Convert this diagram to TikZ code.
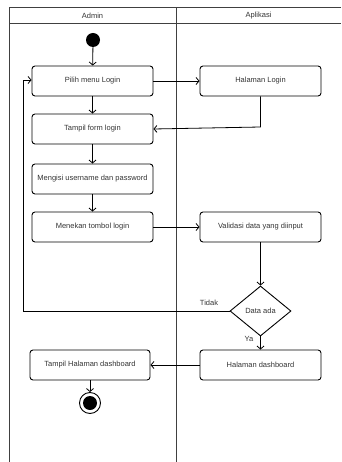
\documentclass[tikz,border=0pt]{standalone}
\usepackage{fontspec}
\setmainfont{Liberation Sans}
\usetikzlibrary{arrows.meta,shapes.geometric}
\begin{document}
\begin{tikzpicture}[x=1pt,y=-1pt,
  act/.style={draw,line width=0.9pt,rounded corners=3pt,minimum width=121pt,minimum height=30pt,inner sep=0pt,font=\fontsize{7.5}{9}\selectfont,text=black!80},
  flow/.style={draw,line width=0.8pt,-{Straight Barb[length=3pt,width=7pt]}},
  frame/.style={draw,line width=1pt,black!75},
  lbl/.style={font=\fontsize{7.5}{9}\selectfont,text=black!80,inner sep=0pt}]
\useasboundingbox (0,0) rectangle (341,462);
% swimlanes
\draw[frame] (341,8) -- (9,8) -- (9,462);
\draw[frame] (9,24) -- (341,24);
\draw[frame] (176,8) -- (176,462);
\node[lbl] (hA) at (92.5,16) {Admin};
\node[lbl] (hB) at (258.5,16) {Aplikasi};
% nodes
\node[circle,fill=black,minimum size=14pt,inner sep=0pt] (start) at (93,40) {};
\node[act] (pilih) at (92.5,81) {Pilih menu Login};
\node[act] (hlogin) at (260.5,81) {Halaman Login};
\node[act] (tampil) at (92.5,129) {Tampil form login};
\node[act] (isi) at (92.5,179) {Mengisi username dan password};
\node[act] (tekan) at (92.5,227) {Menekan tombol login};
\node[act] (valid) at (260.5,227) {Validasi data yang diinput};
\node[diamond,draw,line width=0.9pt,minimum width=61pt,minimum height=50pt,inner sep=0pt,aspect=1.22,font=\fontsize{7.5}{9}\selectfont,text=black!80] (cek) at (260.5,311) {Data ada};
\node[act] (hdash) at (260.5,365) {Halaman dashboard};
\node[act,minimum width=120pt] (tdash) at (90,365) {Tampil Halaman dashboard};
\node[circle,draw,line width=0.9pt,minimum size=21pt,inner sep=0pt] (end) at (90,403) {};
\node[circle,fill=black,minimum size=14pt,inner sep=0pt] (endin) at (end.center) {};
\node[lbl] (tidak) at (209,303) {Tidak};
\node[lbl] (ya) at (249,339) {Ya};
\coordinate (bend) at (260.5,127);
\coordinate (loopA) at (23,311);
\coordinate (loopB) at (23,80);
% flows
\draw[flow] (start) -- (pilih);
\draw[flow] (pilih) -- (hlogin);
\draw[flow] (pilih) -- (tampil);
\draw[flow] (hlogin.south) -- (bend) -- (tampil.east);
\draw[flow] (tampil) -- (isi);
\draw[flow] (isi) -- (tekan);
\draw[flow] (tekan) -- (valid);
\draw[flow] (valid) -- (cek.north);
\draw[flow] (cek.west) -- (loopA) -- (loopB) -- (pilih.west |- loopB);
\draw[flow] (cek.south) -- (hdash);
\draw[flow] (hdash) -- (tdash);
\draw[flow] (tdash) -- (end);
\end{tikzpicture}
\end{document}
